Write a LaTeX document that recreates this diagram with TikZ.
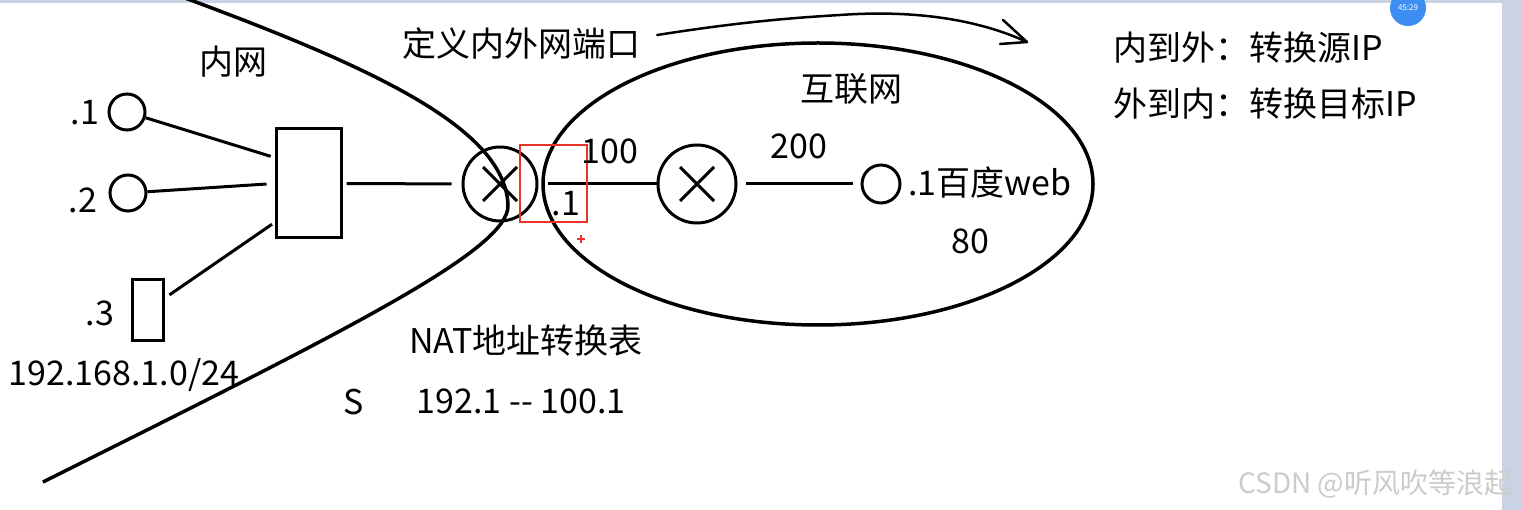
\documentclass[tikz,border=0pt]{standalone}
\usepackage{fontspec}
\setmainfont{Noto Sans CJK SC}
\usepackage{tikz}
\usetikzlibrary{calc}
\definecolor{frame}{HTML}{C9D3E4}
\definecolor{badge}{HTML}{3D8EF2}
\definecolor{redmark}{HTML}{E8332B}

\begin{document}
\begin{tikzpicture}[
	x=1pt,y=-1pt,
	lbl/.style={font=\fontsize{34}{40}\selectfont,inner sep=0pt},
	wire/.style={draw=black,line width=3pt},
	border/.style={draw=black,line width=3.5pt},
	host/.style={circle,draw=black,line width=3pt,minimum size=36pt,inner sep=0pt},
	box/.style={rectangle,draw=black,line width=3pt,inner sep=0pt},
	router/.style={circle,draw=black,line width=3pt,minimum size=#1,inner sep=0pt,
		path picture={
			\draw[line width=3pt] ([shift={(-17pt,-17pt)}]path picture bounding box.center)
				-- ([shift={(17pt,17pt)}]path picture bounding box.center);
			\draw[line width=3pt] ([shift={(-17pt,17pt)}]path picture bounding box.center)
				-- ([shift={(17pt,-17pt)}]path picture bounding box.center);}}]
	\fill[white] (0,0) rectangle (1522,510);
	\useasboundingbox (0,0) rectangle (1522,510);
	\fill[frame] (1502,0) rectangle (1522,510);
	\fill[frame] (0,0) rectangle (1502,3);

	\draw[border] (185,-2) .. controls (380,70) and (505,130) .. (508,205)
		.. controls (510,250) and (343,332) .. (43,482);
	\draw[border] (818,184) ellipse [x radius=275,y radius=141];

	\node[host] (h1) at (127,112) {};
	\node[host] (h2) at (128,193) {};
	\node[box,minimum width=31pt,minimum height=60pt] (h3) at (147.5,310) {};
	\node[box,minimum width=65pt,minimum height=109pt] (sw) at (308.5,183.5) {};
	\node[router=74pt] (r1) at (500,184) {};
	\node[router=78pt] (r2) at (697,184) {};
	\node[host,minimum size=38pt] (web) at (881,184) {};

	\draw[wire,shorten >=4pt] (h1) -- ([yshift=26pt]sw.west);
	\draw[wire,shorten >=8pt] (h2) -- (sw.west);
	\draw[wire,shorten <=6pt,shorten >=3pt] (h3) -- ([yshift=-39pt]sw.west);
	\draw[wire,shorten <=4pt,shorten >=10pt] (sw) -- (r1);
	\draw[wire,shorten <=9pt] (r1) -- (r2);
	\draw[wire,shorten <=8pt,shorten >=8pt] (r2) -- (web);

	\draw[redmark,line width=2pt] (520,145) rectangle (587,222);
	\draw[redmark,line width=1.2pt] (577,239) -- (585,239) (581,235) -- (581,243);

	\node[lbl] (inner) at (233,62) {内网};
	\node[lbl] (l1) at (85,113) {.1};
	\node[lbl] (l2) at (83,200) {.2};
	\node[lbl] (l3) at (100,313) {.3};
	\node[lbl] (lan) at (124,375) {192.168.1.0/24};
	\node[lbl] (def) at (521,44) {定义内外网端口};
	\node[lbl] (inet) at (851,89) {互联网};
	\node[lbl] (p100) at (610,151) {100};
	\node[lbl] (p200) at (799,146) {200};
	\node[lbl] (out1) at (566,204) {.1};
	\node[lbl,anchor=west] (baidu) at (908,183) {.1百度web};
	\node[lbl] (p80) at (970,241) {80};
	\node[lbl] (nat) at (526,341) {NAT地址转换表};
	\node[lbl] (src) at (354,402) {S};
	\node[lbl] (row) at (521,401) {192.1 -{}- 100.1};
	\node[lbl,anchor=west] (rule1) at (1113,48) {内到外：转换源IP};
	\node[lbl,anchor=west] (rule2) at (1113,104) {外到内：转换目标IP};

	\coordinate (tip) at (1027,42);
	\draw[line width=2.5pt,line cap=round,line join=round]
		([xshift=17pt,yshift=9pt]def.east) .. controls (740,22) and (790,18) .. (840,15)
		.. controls (910,10) and (975,18) .. (tip);
	\draw[line width=2.5pt,line cap=round,line join=round] (1003,20) -- (tip) -- (1000,44);

	\node[circle,fill=badge,minimum size=36pt,inner sep=0pt,text=white,
		font=\fontsize{8}{9}\selectfont] (clock) at (1408,8) {45:29};
	\node[anchor=east,text=black!20,font=\fontsize{28}{30}\selectfont] (csdn) at (1516,484)
		{CSDN @听风吹等浪起};
\end{tikzpicture}
\end{document}
